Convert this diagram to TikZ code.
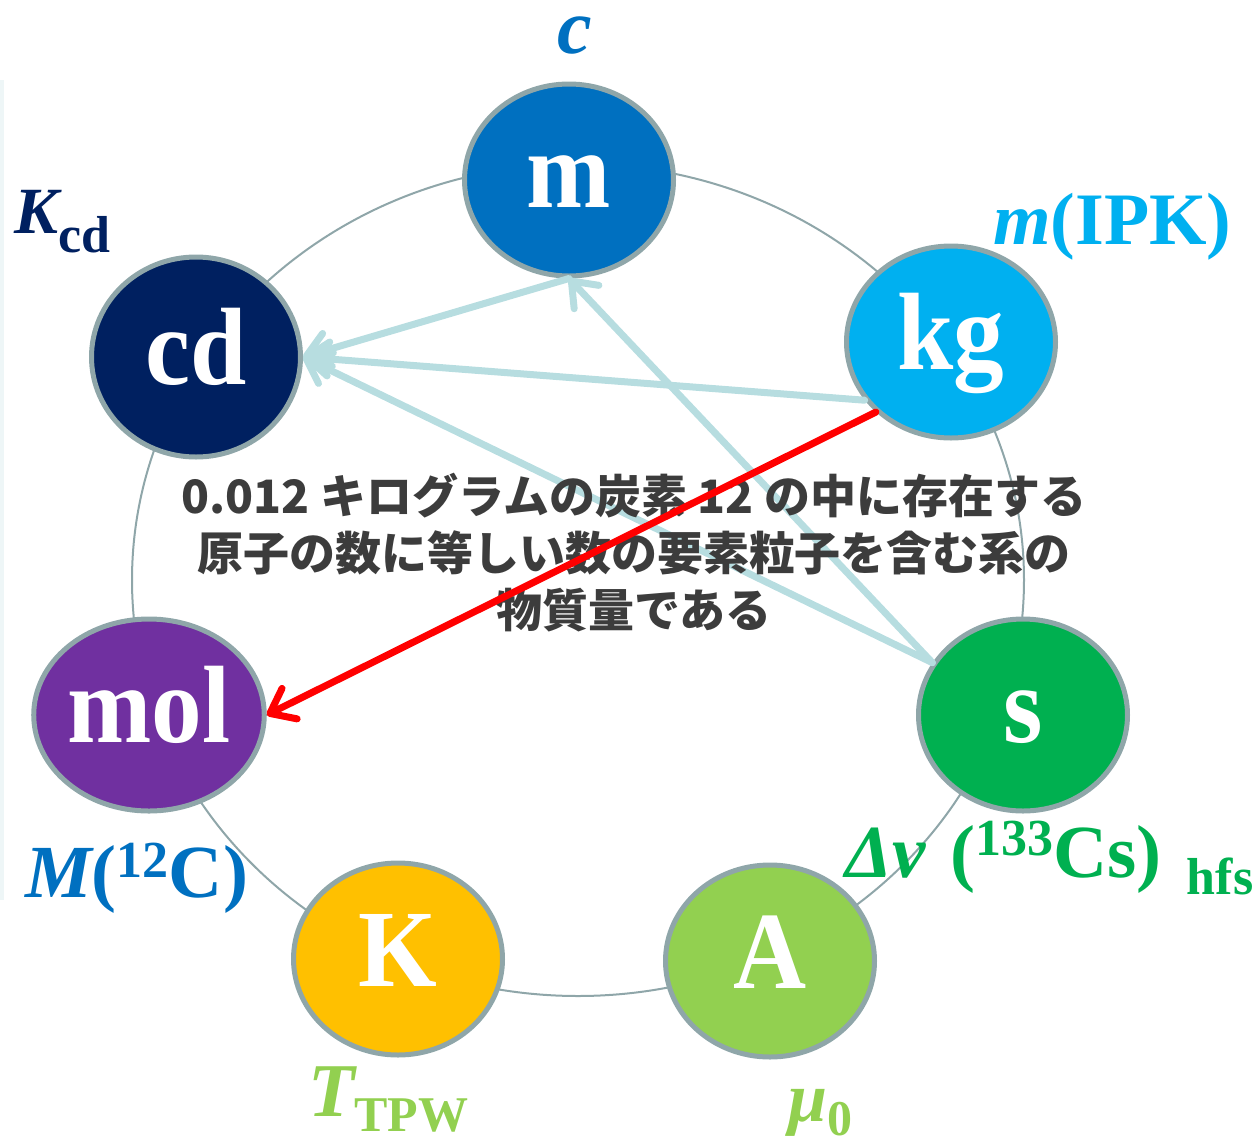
\documentclass[tikz,border=0pt]{standalone}
\usepackage{fontspec}
\setmainfont{Liberation Serif}
\newfontfamily\unitfont{Liberation Serif}[FakeStretch=0.92]
\newfontfamily\jpfont{Noto Sans CJK JP}
\usetikzlibrary{arrows.meta,shapes.geometric}
\definecolor{cm}{HTML}{0070C0}
\definecolor{ckg}{HTML}{00B0F0}
\definecolor{ccd}{HTML}{002060}
\definecolor{cmol}{HTML}{7030A0}
\definecolor{cs}{HTML}{00B050}
\definecolor{cK}{HTML}{FFC000}
\definecolor{cA}{HTML}{92D050}
\definecolor{bord}{HTML}{8FA6A9}
\definecolor{arr}{HTML}{B7DDE0}
\definecolor{txt}{HTML}{3C3C3C}
\definecolor{pale}{HTML}{EEF6F7}
\newcommand{\fs}[1]{\fontsize{#1}{#1}\selectfont}
\begin{document}
\begin{tikzpicture}[x=1pt,y=-1pt,
  unit/.style={ellipse, draw=bord, line width=5pt, minimum width=209pt, minimum height=192pt,
    inner sep=0pt, text=white, font=\unitfont\bfseries\fs{110}, text height=76pt, text depth=22pt},
  link/.style={draw=arr, line width=7pt, line cap=round, -{Straight Barb[length=22pt,width=34pt,round]}},
  redlink/.style={draw=red, line width=7pt, line cap=round, -{Straight Barb[length=22pt,width=34pt,round]}},
  lab/.style={inner sep=0pt, font=\bfseries}]
\useasboundingbox (0,0) rectangle (1256,1144);
\fill[pale] (0,80) rectangle (4,900);
\node[ellipse, draw=bord, line width=2pt, minimum width=892pt, minimum height=832pt, inner sep=0pt] (ring) at (578,580) {};
\node[unit, fill=cm] (m) at (569,180) {m};
\node[unit, fill=ckg] (kg) at (951,342) {kg};
\node[unit, fill=ccd, minimum height=200pt] (cd) at (196,357) {cd};
\node[unit, fill=cmol] (mol) at (149,715) {mol};
\node[unit, fill=cs] (s) at (1023,715) {s};
\node[unit, fill=cK] (K) at (398,959) {K};
\node[unit, fill=cA] (A) at (770,961) {A};
\draw[link] (m.south) -- (cd.east);
\draw[link] (kg.-146) -- (cd.east);
\draw[link] (s.150) -- (cd.east);
\draw[link] (s.150) -- (m.south);
\node[font=\jpfont\bfseries\fontsize{46}{57}\selectfont, text=txt, align=center, inner sep=0pt] (def) at (634,553)
  {0.012 キログラムの炭素 12 の中に存在する\\原子の数に等しい数の要素粒子を含む系の\\物質量である};
\draw[redlink] (kg.-137) -- (mol.east);
\node[lab, anchor=base, text=cm] (lc) at (575,53) {\fs{78}\bfseries\itshape c};
\node[lab, anchor=base west, text=ccd] (lK) at (14,233) {\fs{66}\bfseries\itshape K\upshape\fs{52}\raisebox{-19pt}{cd}};
\node[lab, anchor=base west, text=ckg] (lkg) at (993,244) {\fs{74}\bfseries\itshape m\upshape(IPK)};
\node[lab, anchor=base west, text=cm] (lmol) at (25,897) {\fs{75}\bfseries\itshape M\upshape(\raisebox{20pt}{\fs{52}12}C)};
\node[lab, anchor=base west, text=cs] (ls) at (845,877) {\fs{75}\bfseries\itshape Δν\upshape\,\,(\raisebox{22pt}{\fs{52}133}Cs)\,\,\raisebox{-17pt}{\fs{52}hfs}};
\node[lab, anchor=base west, text=cA] (lT) at (308,1116) {\fs{76}\bfseries\itshape T\upshape\raisebox{-15pt}{\fs{50}TPW}};
\node[lab, anchor=base west, text=cA] (lmu) at (788,1121) {\fs{70}\bfseries\itshape μ\upshape\raisebox{-14pt}{\fs{50}0}};
\end{tikzpicture}
\end{document}
